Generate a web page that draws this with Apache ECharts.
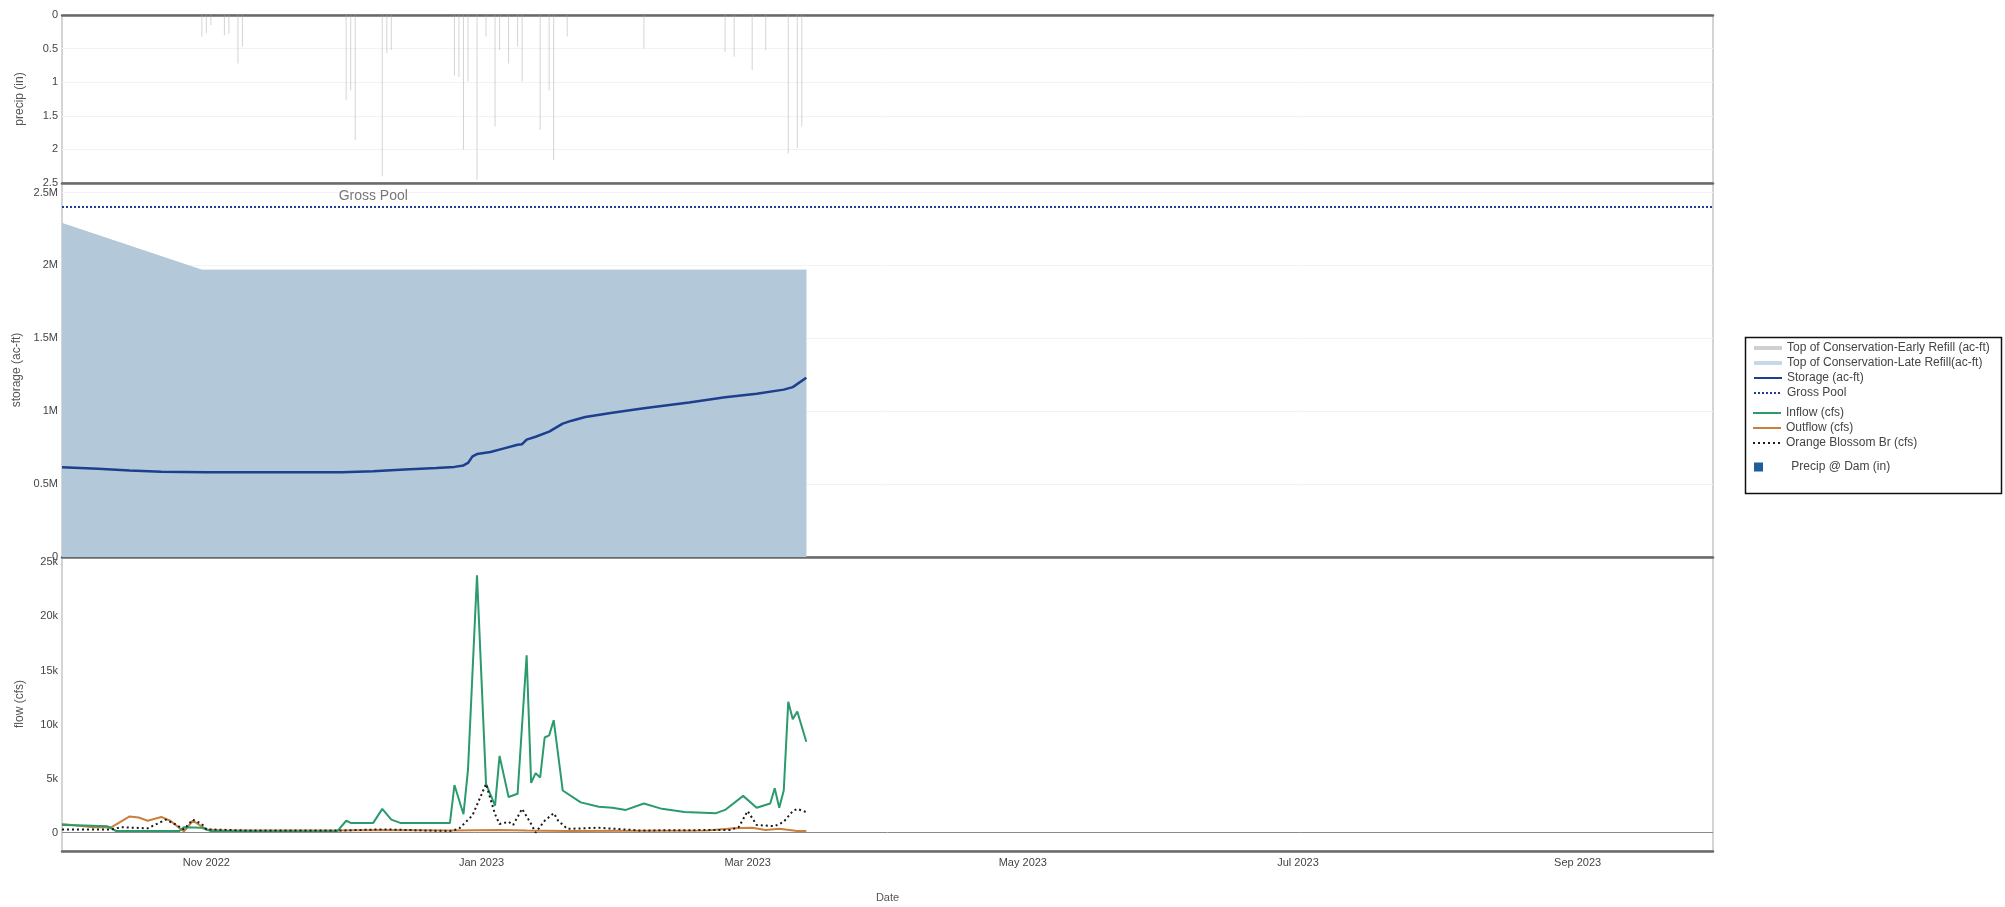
<!DOCTYPE html>
<html>
<head>
<meta charset="utf-8">
<title>New Melones operations, WY 2023</title>
<script src="https://cdn.jsdelivr.net/npm/echarts@6/dist/echarts.min.js"></script>
<style>
  html, body { margin: 0; padding: 0; background: #fff; }
  #chart { width: 2005px; height: 907px; }
</style>
</head>
<body>
<div id="chart"></div>
<script>
// ---- axis ranges & tick labels ----
const xStart = '2022-09-30';
const xEnd = '2023-10-01';
const xTickDates = ['2022-11-01', '2023-01-01', '2023-03-01', '2023-05-01', '2023-07-01', '2023-09-01'];
const monthNames = ['Jan', 'Feb', 'Mar', 'Apr', 'May', 'Jun', 'Jul', 'Aug', 'Sep', 'Oct', 'Nov', 'Dec'];
const precipTicks = [0, 0.5, 1, 1.5, 2, 2.5];
const storageMax = 2565000;
const flowTicks = [0, 5000, 10000, 15000, 20000, 25000];
const flowMin = -1700;
const flowMax = 25500;

// ---- reservoir levels (ac-ft) ----
const grossPool = 2400000;
const grossPoolLabelDate = '2022-12-08';
const topOfConservation = [
  ['2022-09-30', 2290000], ['2022-10-31', 1970000], ['2023-03-14', 1970000]
];
const storage = [
  ['2022-09-30', 616000], ['2022-10-08', 606000], ['2022-10-15', 594000], ['2022-10-22', 585000],
  ['2022-11-01', 582000], ['2022-11-15', 581000], ['2022-12-01', 582000], ['2022-12-08', 588000],
  ['2022-12-15', 600000], ['2022-12-22', 610000], ['2022-12-26', 618000], ['2022-12-28', 628000],
  ['2022-12-29', 645000], ['2022-12-30', 690000], ['2022-12-31', 706000], ['2023-01-03', 720000],
  ['2023-01-06', 745000], ['2023-01-09', 770000], ['2023-01-10', 774000], ['2023-01-11', 805000],
  ['2023-01-13', 825000], ['2023-01-16', 860000], ['2023-01-19', 915000], ['2023-01-21', 935000],
  ['2023-01-24', 960000], ['2023-01-30', 990000], ['2023-02-06', 1020000], ['2023-02-16', 1060000],
  ['2023-02-24', 1095000], ['2023-03-03', 1120000], ['2023-03-09', 1148000], ['2023-03-11', 1165000],
  ['2023-03-14', 1230000]
];

// ---- flows (cfs) ----
const inflow = [
  ['2022-09-30', 700], ['2022-10-05', 650], ['2022-10-10', 600], ['2022-10-12', 150], ['2022-10-20', 150],
  ['2022-10-26', 150], ['2022-10-27', 500], ['2022-10-31', 450], ['2022-11-02', 150], ['2022-11-15', 100],
  ['2022-11-30', 120], ['2022-12-02', 1100], ['2022-12-03', 900], ['2022-12-08', 900], ['2022-12-10', 2200],
  ['2022-12-12', 1200], ['2022-12-14', 900], ['2022-12-25', 900], ['2022-12-26', 4400], ['2022-12-28', 1700],
  ['2022-12-29', 5800], ['2022-12-31', 23800], ['2023-01-02', 4500], ['2023-01-04', 2500], ['2023-01-05', 7100],
  ['2023-01-07', 3300], ['2023-01-09', 3600], ['2023-01-11', 16400], ['2023-01-12', 4600], ['2023-01-13', 5500],
  ['2023-01-14', 5100], ['2023-01-15', 8800], ['2023-01-16', 9000], ['2023-01-17', 10400], ['2023-01-19', 3900],
  ['2023-01-23', 2800], ['2023-01-27', 2400], ['2023-01-30', 2300], ['2023-02-02', 2100], ['2023-02-06', 2700],
  ['2023-02-10', 2200], ['2023-02-15', 1900], ['2023-02-22', 1800], ['2023-02-24', 2100], ['2023-02-28', 3400],
  ['2023-03-03', 2300], ['2023-03-06', 2700], ['2023-03-07', 4100], ['2023-03-08', 2300], ['2023-03-09', 3900],
  ['2023-03-10', 12100], ['2023-03-11', 10500], ['2023-03-12', 11200], ['2023-03-14', 8400]
];
const outflow = [
  ['2022-09-30', 800], ['2022-10-07', 500], ['2022-10-11', 500], ['2022-10-15', 1500], ['2022-10-17', 1400],
  ['2022-10-19', 1100], ['2022-10-22', 1450], ['2022-10-24', 1100], ['2022-10-27', 100], ['2022-10-29', 1100],
  ['2022-11-01', 300], ['2022-11-05', 200], ['2022-11-30', 200], ['2022-12-10', 250], ['2022-12-25', 200],
  ['2023-01-05', 250], ['2023-01-11', 200], ['2023-01-20', 150], ['2023-02-20', 200], ['2023-02-26', 400],
  ['2023-03-02', 450], ['2023-03-05', 250], ['2023-03-08', 350], ['2023-03-12', 150], ['2023-03-14', 150]
];
const orangeBlossom = [
  ['2022-09-30', 300], ['2022-10-11', 300], ['2022-10-13', 500], ['2022-10-19', 400], ['2022-10-23', 1200],
  ['2022-10-25', 800], ['2022-10-27', 300], ['2022-10-29', 1200], ['2022-10-31', 800], ['2022-11-01', 300],
  ['2022-11-10', 200], ['2022-12-01', 200], ['2022-12-10', 300], ['2022-12-25', 150], ['2022-12-27', 350],
  ['2022-12-30', 1600], ['2023-01-02', 4500], ['2023-01-04', 1700], ['2023-01-05', 800], ['2023-01-07', 1000],
  ['2023-01-08', 700], ['2023-01-10', 2200], ['2023-01-12', 800], ['2023-01-13', 0], ['2023-01-15', 1100],
  ['2023-01-17', 1800], ['2023-01-18', 1100], ['2023-01-20', 350], ['2023-01-27', 450], ['2023-02-05', 200],
  ['2023-02-25', 250], ['2023-02-27', 500], ['2023-03-01', 2000], ['2023-03-03', 700], ['2023-03-07', 600],
  ['2023-03-09', 1000], ['2023-03-11', 2000], ['2023-03-12', 2200], ['2023-03-14', 1900]
];

// ---- precipitation at the dam (in) ----
const precip = [
  ['2022-10-31', 0.32], ['2022-11-01', 0.27], ['2022-11-02', 0.15], ['2022-11-05', 0.30], ['2022-11-06', 0.28],
  ['2022-11-08', 0.72], ['2022-11-09', 0.47], ['2022-12-02', 1.26], ['2022-12-03', 1.12], ['2022-12-04', 1.86],
  ['2022-12-10', 2.40], ['2022-12-11', 0.57], ['2022-12-12', 0.52], ['2022-12-26', 0.90], ['2022-12-27', 0.92],
  ['2022-12-28', 2.00], ['2022-12-29', 0.99], ['2022-12-31', 2.45], ['2023-01-02', 0.32], ['2023-01-04', 1.66],
  ['2023-01-05', 0.52], ['2023-01-07', 0.72], ['2023-01-09', 0.47], ['2023-01-10', 0.99], ['2023-01-14', 1.71],
  ['2023-01-16', 1.12], ['2023-01-17', 2.16], ['2023-01-20', 0.32], ['2023-02-06', 0.50], ['2023-02-24', 0.55],
  ['2023-02-26', 0.62], ['2023-03-02', 0.82], ['2023-03-05', 0.52], ['2023-03-10', 2.06], ['2023-03-12', 1.98],
  ['2023-03-13', 1.66]
];

// ---- helpers ----
function ts(s) { const p = s.split('-').map(Number); return new Date(p[0], p[1] - 1, p[2]).getTime(); }
function toXY(rows) { return rows.map(function (r) { return [ts(r[0]), r[1]]; }); }
const xMin = ts(xStart), xMax = ts(xEnd);
const FONT = '"Liberation Sans", Arial, sans-serif';
const BORDER = '#6a6a6a';
const GRID_LINE = '#f1f3f4';

const COLORS = {
  earlyRefill: '#cfcfcf', lateRefill: '#c3d9ec', conservationFill: '#b3c9d9',
  storage: '#1d3f8e', inflow: '#2b9a6c', outflow: '#c9803f', orangeBlossom: '#1a1a1a', precip: '#1f5f99'
};

// date axes are plain value axes over millisecond timestamps
function dateAxis(gridIndex, opts) {
  return Object.assign({
    type: 'value', gridIndex: gridIndex, min: xMin, max: xMax, scale: true,
    axisLine: { show: true, onZero: false, lineStyle: { color: BORDER, width: 2.5 } },
    axisTick: { show: false }, axisLabel: { show: false }, splitLine: { show: false }
  }, opts || {});
}
function valueAxis(gridIndex, name, opts) {
  return Object.assign({
    type: 'value', gridIndex: gridIndex, name: name, nameLocation: 'middle', nameGap: 36,
    nameTextStyle: { fontFamily: FONT, fontSize: 12, color: '#555' },
    axisLine: { show: false }, axisTick: { show: false },
    splitLine: { show: true, lineStyle: { color: GRID_LINE, width: 1 } }
  }, opts || {});
}
const tickLabelStyle = { fontFamily: FONT, fontSize: 11, color: '#444', margin: 4 };

// legend entries drawn as a plain line sample (no marker dot)
function lineEntry(name, lineStyle) {
  return { name: name, itemStyle: { opacity: 0 }, lineStyle: lineStyle };
}

const chart = echarts.init(document.getElementById('chart'), null, { renderer: 'canvas' });
const legendText = { fontFamily: FONT, fontSize: 12, color: '#444' };

chart.setOption({
  backgroundColor: '#fff',
  animation: false,
  grid: [
    { left: 62, right: 292, top: 15, height: 168, show: true, borderColor: '#aaa', borderWidth: 1 },
    { left: 62, right: 292, top: 183, height: 374, show: true, borderColor: '#aaa', borderWidth: 1 },
    { left: 62, right: 292, top: 557, height: 294, show: true, borderColor: '#aaa', borderWidth: 1 }
  ],
  xAxis: [
    dateAxis(0),
    dateAxis(0, { position: 'top' }),
    dateAxis(1),
    dateAxis(2, {
      name: 'Date', nameLocation: 'middle', nameGap: 41,
      nameTextStyle: { fontFamily: FONT, fontSize: 11, color: '#555' },
      axisLabel: {
        show: true, fontFamily: FONT, fontSize: 11, color: '#444', margin: 6,
        customValues: xTickDates.map(ts),
        formatter: function (v) { const d = new Date(v); return monthNames[d.getMonth()] + ' ' + d.getFullYear(); }
      }
    })
  ],
  yAxis: [
    valueAxis(0, 'precip (in)', {
      inverse: true, min: precipTicks[0], max: precipTicks[precipTicks.length - 1],
      axisLabel: Object.assign({ customValues: precipTicks, formatter: function (v) { return String(v); } }, tickLabelStyle),
      splitLine: { show: true, lineStyle: { color: GRID_LINE, width: 1 } }
    }),
    valueAxis(1, 'storage (ac-ft)', {
      min: 0, max: storageMax, interval: 500000,
      axisLabel: Object.assign({
        formatter: function (v) {
          if (v % 500000 !== 0) return '';
          return v === 0 ? '0' : (v / 1e6) + 'M';
        } }, tickLabelStyle)
    }),
    valueAxis(2, 'flow (cfs)', {
      min: flowMin, max: flowMax,
      axisLabel: Object.assign({ customValues: flowTicks,
        formatter: function (v) { return v === 0 ? '0' : (v / 1000) + 'k'; } }, tickLabelStyle),
      splitLine: { show: false }
    })
  ],
  legend: [
    {
      orient: 'vertical', left: 1747, top: 337, itemWidth: 28, itemHeight: 10, itemGap: 3,
      textStyle: legendText,
      data: [
        lineEntry('Top of Conservation-Early Refill (ac-ft)', { color: COLORS.earlyRefill, width: 4, type: 'solid' }),
        lineEntry('Top of Conservation-Late Refill(ac-ft)', { color: COLORS.lateRefill, width: 4, type: 'solid' }),
        lineEntry('Storage (ac-ft)', { color: COLORS.storage, width: 2 }),
        lineEntry('Gross Pool', { color: COLORS.storage, width: 2, type: [2, 2] })
      ]
    },
    {
      orient: 'vertical', left: 1747, top: 402, itemWidth: 28, itemHeight: 10, itemGap: 3,
      textStyle: legendText,
      data: [
        lineEntry('Inflow (cfs)', { color: COLORS.inflow, width: 2 }),
        lineEntry('Outflow (cfs)', { color: COLORS.outflow, width: 2 }),
        lineEntry('Orange Blossom Br (cfs)', { color: COLORS.orangeBlossom, width: 2, type: [2, 3] })
      ]
    },
    {
      orient: 'vertical', left: 1749, top: 456, itemWidth: 9, itemHeight: 9, itemGap: 3,
      textStyle: legendText,
      formatter: function (n) { return '       ' + n; },
      data: [{ name: 'Precip @ Dam (in)', icon: 'rect', itemStyle: { color: COLORS.precip } }]
    }
  ],
  graphic: [
    { type: 'rect', left: 1743, top: 335, shape: { width: 256, height: 156 },
      style: { fill: 'none', stroke: '#111', lineWidth: 1.5 }, silent: true }
  ],
  series: [
    {
      name: 'Precip @ Dam (in)', type: 'bar', xAxisIndex: 0, yAxisIndex: 0,
      barWidth: 1, data: toXY(precip),
      itemStyle: { color: 'rgba(165,172,178,0.5)' }
    },
    {
      name: 'Top of Conservation-Early Refill (ac-ft)', type: 'line', xAxisIndex: 2, yAxisIndex: 1,
      data: toXY(topOfConservation), symbol: 'none', z: 1,
      itemStyle: { color: COLORS.earlyRefill },
      lineStyle: { width: 0, color: COLORS.earlyRefill }, areaStyle: { color: '#c9cfd4', opacity: 1 }
    },
    {
      name: 'Top of Conservation-Late Refill(ac-ft)', type: 'line', xAxisIndex: 2, yAxisIndex: 1,
      data: toXY(topOfConservation), symbol: 'none', z: 2,
      itemStyle: { color: COLORS.lateRefill },
      lineStyle: { width: 0, color: COLORS.lateRefill }, areaStyle: { color: COLORS.conservationFill, opacity: 1 }
    },
    {
      name: 'Storage (ac-ft)', type: 'line', xAxisIndex: 2, yAxisIndex: 1,
      data: toXY(storage), symbol: 'none', z: 4,
      itemStyle: { color: COLORS.storage },
      lineStyle: { width: 2.5, color: COLORS.storage }
    },
    {
      name: 'Gross Pool', type: 'line', xAxisIndex: 2, yAxisIndex: 1,
      data: toXY([[xStart, grossPool], [xEnd, grossPool]]), symbol: 'none', z: 4,
      itemStyle: { color: COLORS.storage },
      lineStyle: { width: 2, color: COLORS.storage, type: [2, 2] }
    },
    {
      name: 'grossPoolLabel', type: 'scatter', xAxisIndex: 2, yAxisIndex: 1,
      data: toXY([[grossPoolLabelDate, grossPool]]), symbolSize: 0, silent: true,
      label: { show: true, position: 'top', distance: 4, formatter: 'Gross Pool',
        fontFamily: FONT, fontSize: 14, color: '#555' }
    },
    {
      name: 'Outflow (cfs)', type: 'line', xAxisIndex: 3, yAxisIndex: 2,
      data: toXY(outflow), symbol: 'none', z: 3,
      itemStyle: { color: COLORS.outflow },
      lineStyle: { width: 2, color: COLORS.outflow }
    },
    {
      name: 'Inflow (cfs)', type: 'line', xAxisIndex: 3, yAxisIndex: 2,
      data: toXY(inflow), symbol: 'none', z: 4,
      itemStyle: { color: COLORS.inflow },
      lineStyle: { width: 2, color: COLORS.inflow },
      markLine: {
        silent: true, symbol: 'none', label: { show: false },
        lineStyle: { color: '#8a8a8a', width: 1, type: 'solid' },
        data: [{ yAxis: 0 }]
      }
    },
    {
      name: 'Orange Blossom Br (cfs)', type: 'line', xAxisIndex: 3, yAxisIndex: 2,
      data: toXY(orangeBlossom), symbol: 'none', z: 5,
      itemStyle: { color: COLORS.orangeBlossom },
      lineStyle: { width: 2, color: COLORS.orangeBlossom, type: [2, 3] }
    }
  ]
});
</script>
</body>
</html>
